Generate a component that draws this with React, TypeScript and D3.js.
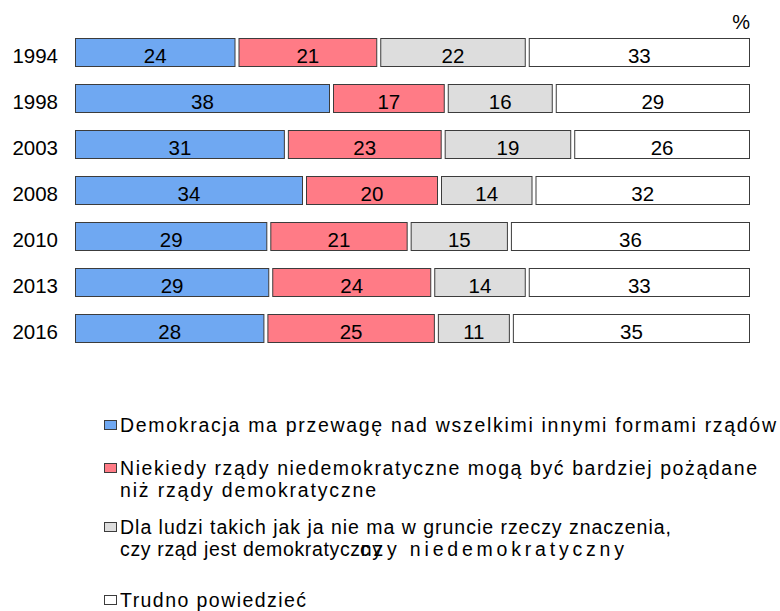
import React from 'react';
import * as d3 from 'd3';

const years = ['1994', '1998', '2003', '2008', '2010', '2013', '2016'];
const seriesNames = ['democracy', 'nondemocratic', 'noMatter', 'hardToSay'];
const democracy = [24, 38, 31, 34, 29, 29, 28];
const nondemocratic = [21, 17, 23, 20, 21, 24, 25];
const noMatter = [22, 16, 19, 14, 15, 14, 11];
const hardToSay = [33, 29, 26, 32, 36, 33, 35];
const colors = ['#6fa8f2', '#ff7b86', '#dddddd', '#ffffff'];

// legend lines: [text, textLength] per series
const legendLines = [
  [['Demokracja ma przewagę nad wszelkimi innymi formami rządów', 656]],
  [['Niekiedy rządy niedemokratyczne mogą być bardziej pożądane', 637], ['niż rządy demokratyczne', 256]],
  [['Dla ludzi takich jak ja nie ma w gruncie rzeczy znaczenia,', 551], ['czy rząd jest demokratyczny', 262]],
  [['Trudno powiedzieć', 186]],
];

const W = 780;
const H = 611;
const FONT = "'Liberation Sans', Arial, sans-serif";

export default function App() {
  const values = [democracy, nondemocratic, noMatter, hardToSay];
  const rows = years.map((year, i) => {
    const vals = values.map(v => v[i]);
    const total = d3.sum(vals);
    let acc = 0;
    const segs = vals.map((v, k) => {
      const s = { key: seriesNames[k], v, k, c0: acc / total, c1: (acc + v) / total };
      acc += v;
      return s;
    });
    return { year, segs };
  });

  const x = d3.scaleLinear().domain([0, 1]).range([75, 750]);
  const y = d3.scalePoint<string>().domain(years).range([52.5, 328.5]);
  const barH = 29;
  const gap = 1.5;

  const legendY = [432, 475, 534, 607];
  const lineH = 22;

  return (
    <svg width={W} height={H} style={{ position: 'absolute', left: 0, top: 0, background: '#fff' }} fontFamily={FONT}>
      <text x={750} y={29} fontSize={20} textAnchor="end" fill="#000">%</text>
      {rows.map(r => {
        const cy = y(r.year)!;
        return (
          <g key={r.year}>
            <text x={58} y={cy + 10} fontSize={20.5} textAnchor="end" fill="#000">{r.year}</text>
            {r.segs.map(s => {
              const x0 = x(s.c0) + (s.k > 0 ? gap : 0);
              const x1 = x(s.c1) - (s.k < 3 ? gap : 0);
              return (
                <g key={s.key}>
                  <rect x={x0 + 0.5} y={cy - barH / 2 + 0.5} width={x1 - x0 - 1} height={barH - 1}
                    fill={colors[s.k]} stroke="#3c3c3c" strokeWidth={1} />
                  <text x={(x0 + x1) / 2} y={cy + 10} fontSize={20.5} textAnchor="middle" fill="#000">{s.v}</text>
                </g>
              );
            })}
          </g>
        );
      })}
      {legendLines.map((lines, k) => {
        const by = legendY[k];
        return (
          <g key={k}>
            <rect x={104.5} y={by - 11.5} width={12} height={9} fill={colors[k]} stroke="#3c3c3c" strokeWidth={1} />
            {lines.map((ln, j) => (
              <text key={j} x={120} y={by + j * lineH} fontSize={19.5} fill="#000"
                textLength={ln[1] as number} lengthAdjust="spacing">{ln[0]}</text>
            ))}
          </g>
        );
      })}
      <text x={360} y={legendY[2] + lineH} fontSize={19.5} fill="#000"
        textLength={264} lengthAdjust="spacing">czy niedemokratyczny</text>
    </svg>
  );
}
